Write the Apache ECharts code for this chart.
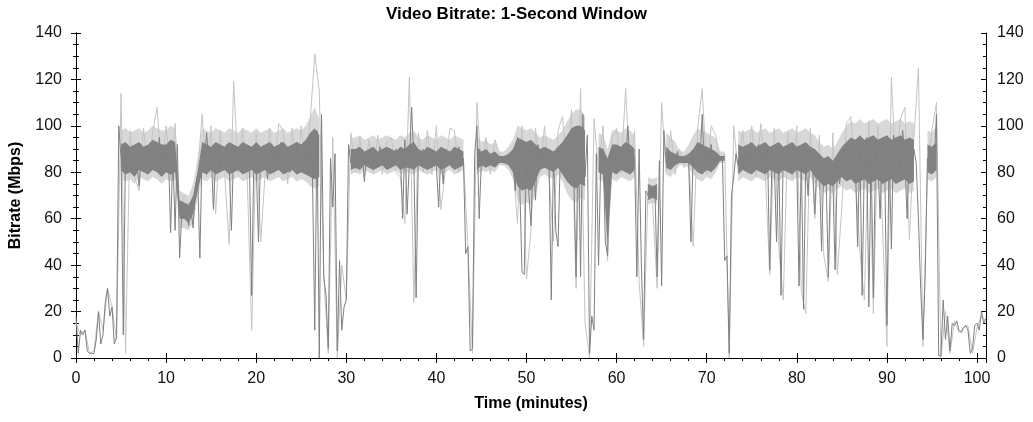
<!DOCTYPE html>
<html>
<head>
<meta charset="utf-8">
<script src="https://cdn.jsdelivr.net/npm/echarts@6/dist/echarts.min.js"></script>
<style>html,body{margin:0;padding:0;background:#fff}#c{width:1033px;height:422px}</style>
</head>
<body>
<div id="c"></div>
<script>
const TITLE = 'Video Bitrate: 1-Second Window';
const X_NAME = 'Time (minutes)';
const Y_NAME = 'Bitrate (Mbps)';
const X_TICKS = [0, 10, 20, 30, 40, 50, 60, 70, 80, 90, 100];
const Y_TICKS = [0, 20, 40, 60, 80, 100, 120, 140];
const STEP_DARK = 0.25;   // minutes between samples of the dark line
const STEP_LIGHT = 0.5;   // minutes between samples of the light line and of the bands

// dark gray line (Mbps), one sample every 0.25 min, groups = one minute
const darkValues = [
  18, 2, 12, 10,   12, 3, 2, 2,   2, 8, 20, 6,   10, 24, 30, 18,   22, 6, 9, 100,
  86, 10, 92, 82,   88, 81, 90, 84,   74, 89, 83, 91,   84, 88, 81, 92,   85, 95, 83, 89,
  82, 90, 54, 88,   55, 92, 43, 63,   60, 66, 57, 64,   56, 74, 79, 43,   90, 84, 97, 83,
  89, 64, 86, 91,   82, 88, 84, 92,   83, 55, 90, 85,   88, 82, 91, 84,   87, 83, 27, 89,
  84, 50, 90, 82,   88, 77, 86, 92,   83, 89, 84, 93,   82, 87, 90, 80,   88, 84, 93, 82,
  87, 85, 91, 83,   95, 78, 12, 98,   0, 105, 35, 27,   4, 86, 65, 88,   3, 42, 12, 22,
  25, 92, 84, 88,   82, 89, 85, 90,   76, 87, 84, 89,   83, 88, 85, 91,   84, 87, 82, 89,
  86, 83, 90, 85,   88, 60, 94, 62,   84, 108, 85, 26,   88, 83, 90, 84,   87, 82, 89, 85,
  83, 65, 88, 75,   90, 84, 87, 82,   89, 85, 91, 83,   86, 45, 48, 3,   4, 88, 100, 60,
  86, 89, 84, 87,   85, 88, 83, 86,   85, 86, 84, 86,   85, 87, 84, 72,   95, 75, 37, 36,
  90, 72, 57, 88,   68, 92, 84, 88,   83, 90, 85, 25,   88, 55, 48, 86,   90, 84, 88, 82,
  92, 80, 35, 100,   35, 105, 78, 96,   2, 18, 12, 88,   40, 86, 90, 50,   44, 88, 84, 90,
  83, 89, 86, 92,   84, 100, 82, 88,   86, 35, 90, 40,   8, 72, 70, 74,   69, 73, 35, 85,
  31, 98, 84, 88,   83, 87, 85, 89,   85, 86, 85, 86,   84, 50, 88, 83,   90, 85, 105, 82,
  89, 84, 92, 83,   88, 85, 86, 86,   42, 44, 2, 70,   78, 88, 83, 90,   84, 89, 82, 91,
  85, 88, 83, 92,   84, 89, 86, 90,   38, 88, 84, 50,   87, 27, 90, 84,   88, 80, 91, 85,
  84, 31, 88, 21,   86, 70, 90, 83,   62, 88, 82, 46,   84, 79, 35, 82,   78, 38, 83, 75,
  84, 90, 82, 93,   86, 88, 84, 48,   92, 27, 85, 95,   22, 88, 26, 90,   84, 60, 95, 86,
  14, 90, 47, 96,   84, 92, 80, 98,   85, 60, 94, 83,   90, 84, 60, 30,   8, 35, 86, 82,
  90, 84, 105, 1,   1, 25, 8, 18,   3, 15, 14, 16,   12, 11, 13, 14,   12, 2, 4, 14,
  15, 12, 20, 15,
  17
];

// light gray line (Mbps), one sample every 0.5 min, rows = five minutes
const lightValues = [
  15, 10,  12, 2,  3, 20,  12, 30,  22, 8,
  114, 2,  98, 78,  72, 99,  79, 97,  108, 80,
  100, 78,  101, 62,  70, 66,  58, 80,  105, 78,
  100, 62,  98, 79,  49, 119,  80, 99,  78, 12,
  97, 50,  80, 99,  79, 101,  98, 75,  99, 79,
  100, 80,  103, 131,  115, 35,  2, 95,  0, 40,
  25, 97,  80, 95,  78, 94,  80, 96,  79, 93,
  95, 80,  78, 58,  121, 24,  97, 80,  98, 79,
  100, 64,  81, 99,  98, 80,  86, 48,  2, 110,
  80, 95,  79, 94,  88, 83,  87, 84,  58, 100,
  34, 55,  99, 80,  100, 78,  50, 98,  104, 80,
  107, 30,  116, 15,  0, 103,  80, 100,  42, 95,
  99, 80,  116, 79,  98, 33,  5, 75,  66, 30,
  110, 80,  98, 79,  90, 82,  87, 48,  99, 116,
  79, 100,  96, 84,  88, 0,  100, 80,  98, 79,
  100, 78,  101, 80,  36, 99,  48, 25,  97, 78,
  100, 29,  19, 99,  60, 96,  44, 33,  97, 36,
  65, 101,  104, 80,  46, 25,  102, 19,  100, 58,
  5, 121,  80, 103,  108, 51,  95, 125,  5, 80,
  98, 110,  0, 20,  2, 16,  11, 13,  14, 2,
  13, 18,  16
];

// dense dark band of the per-second samples: low / high edge, every 0.5 min, rows = five minutes
const darkBandLow = [
  null, null, null, null, null, null, null, null, null, null,
  81, 79, 80, 78, 81, 80, 79, 81, 80, 78,
  80, 79, 80, 60, 60, 58, 62, 72, 80, 79,
  81, 79, 80, 81, 79, 80, 81, 79, 80, 81,
  79, 80, 81, 79, 80, 81, 79, 80, 81, 79,
  80, 79, 78, 77, 78, null, null, null, null, null,
  null, 81, 82, 81, 83, 82, 81, 82, 83, 81,
  82, 83, 81, 82, 82, 81, 83, 82, 81, 82,
  83, 81, 82, 83, 81, 82, 83, null, null, 81,
  83, 82, 83, 82, 84, 84, 83, 80, 74, 72,
  73, 72, 76, 81, 82, 81, 80, 82, 79, 76,
  74, 73, 75, 74, null, null, 80, 79, 50, 80,
  79, 81, 80, 79, 81, null, null, 68, 69, 68,
  null, 82, 81, 83, 84, 84, 84, 82, 80, 79,
  81, 80, 82, 85, 85, null, null, 79, 81, 80,
  79, 81, 80, 79, 81, 80, 79, 81, 80, 79,
  81, 80, 79, 81, 78, 76, 74, 75, 74, 76,
  78, 76, 77, 75, 76, 77, 75, 76, 77, 75,
  76, 77, 75, 76, 77, 75, 76, null, null, 80,
  79, 81, null, null, null, null, null, null, null, null,
  null, null, null
];
const darkBandHigh = [
  null, null, null, null, null, null, null, null, null, null,
  92, 93, 91, 92, 93, 91, 92, 94, 93, 92,
  92, 94, 93, 68, 67, 66, 70, 80, 93, 92,
  91, 93, 92, 91, 93, 92, 91, 93, 92, 91,
  93, 91, 92, 93, 91, 92, 93, 91, 92, 93,
  92, 94, 97, 99, 96, null, null, null, null, null,
  null, 90, 90, 91, 89, 90, 91, 89, 90, 91,
  90, 89, 91, 90, 92, 93, 90, 89, 91, 90,
  89, 91, 90, 89, 91, 90, 89, null, null, 91,
  89, 90, 88, 89, 87, 87, 88, 90, 95, 94,
  93, 94, 92, 90, 91, 90, 89, 91, 93, 96,
  99, 100, 100, 98, null, null, 91, 90, 86, 92,
  92, 91, 93, 92, 90, null, null, 75, 74, 75,
  null, 91, 89, 88, 87, 87, 88, 90, 93, 92,
  91, 90, 89, 87, 87, null, null, 92, 91, 92,
  93, 91, 92, 93, 91, 92, 93, 91, 92, 93,
  91, 92, 93, 91, 90, 88, 86, 87, 85, 88,
  91, 93, 95, 94, 96, 94, 95, 96, 94, 95,
  96, 94, 95, 96, 94, 95, 94, null, null, 92,
  91, 93, null, null, null, null, null, null, null, null,
  null, null, null
];
// lighter haze of the peak samples around the dark band: low / high edge, every 0.5 min
const lightBandLow = [
  null, null, null, null, null, null, null, null, null, null,
  77, 76, 77, 75, 78, 77, 76, 78, 77, 75,
  77, 76, 77, 56, 56, 55, 58, 69, 77, 76,
  78, 76, 77, 78, 76, 77, 78, 76, 77, 78,
  76, 77, 78, 76, 77, 78, 76, 77, 78, 76,
  77, 76, 74, 73, 74, null, null, null, null, null,
  null, 79, 80, 79, 81, 80, 79, 80, 81, 79,
  80, 81, 79, 80, 80, 79, 81, 80, 79, 80,
  81, 79, 80, 81, 79, 80, 81, null, null, 79,
  81, 80, 81, 80, 83, 83, 81, 77, 68, 66,
  67, 66, 70, 78, 79, 78, 77, 79, 76, 71,
  68, 67, 69, 68, null, null, 77, 76, 46, 77,
  76, 78, 77, 76, 78, null, null, 66, 67, 66,
  null, 79, 78, 81, 83, 83, 82, 79, 77, 76,
  78, 77, 80, 84, 84, null, null, 76, 78, 77,
  76, 78, 77, 76, 78, 77, 76, 78, 77, 76,
  78, 77, 76, 78, 75, 73, 71, 72, 71, 73,
  74, 72, 73, 71, 72, 73, 71, 72, 73, 71,
  72, 73, 71, 72, 73, 71, 72, null, null, 77,
  76, 78, null, null, null, null, null, null, null, null,
  null, null, null
];
const lightBandHigh = [
  null, null, null, null, null, null, null, null, null, null,
  98, 99, 97, 98, 99, 97, 98, 100, 99, 98,
  98, 100, 99, 72, 71, 70, 75, 86, 99, 98,
  97, 99, 98, 97, 99, 98, 97, 99, 98, 97,
  99, 97, 98, 99, 97, 98, 99, 97, 98, 99,
  98, 100, 104, 108, 103, null, null, null, null, null,
  null, 95, 95, 96, 94, 95, 96, 94, 95, 96,
  95, 94, 96, 95, 97, 98, 95, 94, 96, 95,
  94, 96, 95, 94, 96, 95, 94, null, null, 96,
  93, 94, 92, 93, 89, 89, 91, 94, 100, 99,
  98, 99, 97, 95, 96, 95, 94, 96, 98, 102,
  105, 107, 107, 104, null, null, 97, 96, 90, 98,
  98, 97, 99, 98, 96, null, null, 78, 77, 78,
  null, 97, 95, 93, 89, 89, 92, 96, 99, 98,
  97, 96, 95, 89, 89, null, null, 98, 97, 98,
  99, 97, 98, 99, 97, 98, 99, 97, 98, 99,
  97, 98, 99, 97, 96, 93, 91, 92, 90, 93,
  97, 100, 102, 101, 103, 101, 102, 103, 101, 102,
  103, 101, 102, 103, 101, 102, 101, null, null, 98,
  97, 100, null, null, null, null, null, null, null, null,
  null, null, null
];

const darkData = darkValues.map((v, i) => [i * STEP_DARK, v]);
const lightData = lightValues.map((v, i) => [i * STEP_LIGHT, v]);

// contiguous runs of band samples -> one polygon per run
function bandRuns(low, high) {
  const runs = [];
  let s = -1;
  for (let i = 0; i <= low.length; i++) {
    const ok = i < low.length && low[i] != null && high[i] != null;
    if (ok && s < 0) s = i;
    if (!ok && s >= 0) { if (i - 1 > s) runs.push([s * STEP_LIGHT, (i - 1) * STEP_LIGHT, s, i - 1]); s = -1; }
  }
  return runs;
}
function bandSeries(name, low, high, color, z) {
  return {
    name: name, type: 'custom', z: z, silent: true, clip: true,
    data: bandRuns(low, high),
    encode: { x: [0, 1] },
    renderItem: function (params, api) {
      const s = api.value(2), e = api.value(3);
      const pts = [];
      for (let i = s; i <= e; i++) pts.push(api.coord([i * STEP_LIGHT, low[i]]));
      for (let i = e; i >= s; i--) pts.push(api.coord([i * STEP_LIGHT, high[i]]));
      return { type: 'polygon', shape: { points: pts }, style: { fill: color, stroke: null } };
    }
  };
}

const FONT = 'Liberation Sans, Arial, sans-serif';
const X_MIN = X_TICKS[0], X_MAX = 101, X_INT = X_TICKS[1] - X_TICKS[0];
const Y_MIN = Y_TICKS[0], Y_MAX = Y_TICKS[Y_TICKS.length - 1], Y_INT = Y_TICKS[1] - Y_TICKS[0];

const line = { show: true, lineStyle: { color: '#000', width: 1 } };
function xAx(opts) {
  return Object.assign({
    type: 'value', min: X_MIN, max: X_MAX, interval: X_INT,
    axisLine: line, splitLine: { show: false }, axisLabel: { show: false }
  }, opts);
}
function yAx(opts) {
  return Object.assign({
    type: 'value', min: Y_MIN, max: Y_MAX, interval: Y_INT,
    axisLine: line, splitLine: { show: false }, axisLabel: { show: false }
  }, opts);
}
const tickStyle = { color: '#000', width: 1 };
const labelStyle = { fontFamily: FONT, fontSize: 16, color: '#111' };
const nameStyle = { fontFamily: FONT, fontSize: 16, fontWeight: 'bold', color: '#000' };

const option = {
  animation: false,
  backgroundColor: '#fff',
  title: {
    text: TITLE, left: 'center', top: 1,
    textStyle: { fontFamily: FONT, fontSize: 17, fontWeight: 'bold', color: '#000' }
  },
  grid: { left: 75, top: 33, width: 911, height: 325, containLabel: false },
  xAxis: [
    xAx({
      position: 'bottom',
      name: X_NAME, nameLocation: 'middle', nameGap: 38, nameTextStyle: nameStyle,
      axisTick: { show: true, inside: false, length: 5, lineStyle: tickStyle },
      minorTick: { show: true, splitNumber: 5, length: 3, lineStyle: tickStyle },
      axisLabel: Object.assign({ show: true, margin: 13, showMaxLabel: false,
        formatter: v => (X_TICKS.indexOf(v) >= 0 ? String(v) : '') }, labelStyle)
    }),
    xAx({ position: 'bottom',
      axisTick: { show: true, inside: true, length: 5, lineStyle: tickStyle },
      minorTick: { show: false } }),
    xAx({ position: 'top',
      axisTick: { show: true, inside: true, length: 5, lineStyle: tickStyle },
      minorTick: { show: true, splitNumber: 5, length: 3, lineStyle: tickStyle } })
  ],
  yAxis: [
    yAx({
      position: 'left',
      name: Y_NAME, nameLocation: 'middle', nameGap: 52, nameRotate: 90, nameTextStyle: nameStyle,
      axisTick: { show: true, inside: false, length: 5, lineStyle: tickStyle },
      minorTick: { show: true, splitNumber: 4, length: 3, lineStyle: tickStyle },
      axisLabel: Object.assign({ show: true, margin: 14,
        formatter: v => (Y_TICKS.indexOf(v) >= 0 ? String(v) : '') }, labelStyle)
    }),
    yAx({ position: 'left',
      axisTick: { show: true, inside: true, length: 5, lineStyle: tickStyle },
      minorTick: { show: true, splitNumber: 4, length: 3, lineStyle: tickStyle } }),
    yAx({
      position: 'right',
      axisTick: { show: true, inside: false, length: 5, lineStyle: tickStyle },
      minorTick: { show: true, splitNumber: 4, length: 3, lineStyle: tickStyle },
      axisLabel: Object.assign({ show: true, margin: 11,
        formatter: v => (Y_TICKS.indexOf(v) >= 0 ? String(v) : '') }, labelStyle)
    }),
    yAx({ position: 'right',
      axisTick: { show: true, inside: true, length: 5, lineStyle: tickStyle },
      minorTick: { show: true, splitNumber: 4, length: 3, lineStyle: tickStyle } })
  ],
  series: [
    bandSeries('Peak haze', lightBandLow, lightBandHigh, '#d8d8d8', 1),
    {
      name: 'Peak', type: 'line', data: lightData,
      symbol: 'none', showSymbol: false, z: 2,
      lineStyle: { color: '#c4c4c4', width: 1 }
    },
    bandSeries('Bitrate band', darkBandLow, darkBandHigh, '#828282', 3),
    {
      name: 'Bitrate', type: 'line', data: darkData,
      symbol: 'none', showSymbol: false, z: 4,
      lineStyle: { color: '#808080', width: 1 }
    }
  ]
};

const chart = echarts.init(document.getElementById('c'), null, { renderer: 'canvas' });
chart.setOption(option);
</script>
</body>
</html>
